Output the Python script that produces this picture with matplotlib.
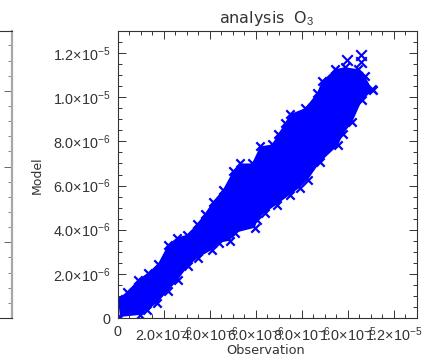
import matplotlib
matplotlib.use("Agg")
import matplotlib.pyplot as plt
from matplotlib.ticker import MultipleLocator, FixedLocator, FixedFormatter

plt.rcParams['font.family'] = ['Liberation Sans', 'DejaVu Sans']
plt.rcParams['mathtext.fontset'] = 'custom'
plt.rcParams['mathtext.rm'] = 'Liberation Sans'
plt.rcParams['mathtext.default'] = 'rm'

SCALE = 1e-6
upper_obs = [0.02, 0.41, 0.89, 1.33, 1.76, 2.20, 2.59, 3.02, 3.46, 3.80, 4.15, 4.59, 5.02, 5.33,
             5.85, 6.20, 6.72, 6.98, 7.28, 7.50, 8.15, 8.67, 8.89, 9.46, 9.89, 10.46, 10.76, 11.07]
upper_model = [0.86, 1.18, 1.73, 2.05, 2.45, 3.32, 3.64, 3.77, 4.27, 4.73, 5.27, 5.82, 6.64, 7.00,
               7.00, 7.77, 7.86, 8.32, 8.82, 9.23, 9.50, 10.18, 10.73, 11.27, 11.36, 11.27, 10.95, 10.36]
lower_obs = [11.11, 10.63, 10.20, 9.80, 9.59, 8.80, 8.28, 7.93, 7.50, 6.93, 6.41, 6.07, 5.98, 5.11,
             4.89, 4.41, 4.11, 3.50, 3.07, 2.63, 2.20, 1.72, 1.28, 0.98, 0.11]
lower_model = [10.32, 9.86, 8.86, 8.32, 7.82, 7.05, 6.27, 5.91, 5.59, 5.14, 4.77, 4.45, 4.09, 3.86,
               3.50, 3.41, 3.09, 2.73, 2.36, 1.73, 1.23, 0.68, 0.36, 0.14, 0.05]
outlier_obs = [9.98, 10.59, 10.59, 10.20]
outlier_model = [11.68, 11.91, 11.59, 11.05]

x_ticks = [0, 2, 4, 6, 8, 10, 12]
x_labels = ['0', r'2.0$\times$10$^{-6}$', r'4.0$\times$10$^{-6}$', r'6.0$\times$10$^{-6}$',
            r'8.0$\times$10$^{-6}$', r'1.0$\times$10$^{-5}$', r'1.2$\times$10$^{-5}$']
y_ticks = x_ticks
y_labels = x_labels
title_text = 'analysis  O$_3$'
x_title = 'Observation'
y_title = 'Model'
left_ticks = [0, 1, 2, 3]

W, H = 423, 355
INK = '#333333'
fig = plt.figure(figsize=(W / 100, H / 100), dpi=100)

def box(l, r, t, b):
    return [l / W, 1 - b / H, (r - l) / W, (b - t) / H]

# Clipped neighbouring panel
axl = fig.add_axes(box(-280, 12, 31, 318))
axl.set_ylim(0, 3.79)
axl.set_xlim(0, 1)
axl.spines['left'].set_visible(False)
axl.spines['right'].set_color('#a8a8a8')
axl.spines['right'].set_linewidth(1.6)
for s in ('top', 'bottom'):
    axl.spines[s].set_color(INK)
    axl.spines[s].set_linewidth(0.8)
axl.xaxis.set_visible(False)
axl.yaxis.tick_right()
axl.yaxis.set_major_locator(FixedLocator(left_ticks))
axl.yaxis.set_minor_locator(MultipleLocator(0.2))
axl.tick_params(axis='y', which='major', direction='in', length=6, width=0.7, color='#666666',
                labelright=False)
axl.tick_params(axis='y', which='minor', direction='in', length=3, width=0.7, color='#888888')

# Main panel
ax = fig.add_axes(box(117.5, 416.5, 31, 318))
ax.set_xlim(0, 13 * SCALE)
ax.set_ylim(0, 13 * SCALE)

fx = [v * SCALE for v in upper_obs + lower_obs]
fy = [v * SCALE for v in upper_model + lower_model]
ax.fill(fx, fy, color='#0000ff', lw=0, zorder=2)
ax.scatter(fx, fy, marker='x', s=36, c='#0000ff', linewidths=1.6, zorder=3)
ax.scatter([v * SCALE for v in outlier_obs], [v * SCALE for v in outlier_model],
           marker='x', s=58, c='#0000ff', linewidths=1.5, zorder=3)

ax.xaxis.set_major_locator(FixedLocator([v * SCALE for v in x_ticks]))
ax.xaxis.set_major_formatter(FixedFormatter(x_labels))
ax.yaxis.set_major_locator(FixedLocator([v * SCALE for v in y_ticks]))
ax.yaxis.set_major_formatter(FixedFormatter(y_labels))
ax.xaxis.set_minor_locator(MultipleLocator(0.5 * SCALE))
ax.yaxis.set_minor_locator(MultipleLocator(0.5 * SCALE))
ax.tick_params(which='major', direction='in', length=6, width=0.7, top=True, right=True,
               color=INK, labelsize=10.4, labelcolor=INK, zorder=5)
ax.tick_params(which='minor', direction='in', length=3, width=0.7, top=True, right=True, color=INK)
ax.tick_params(axis='x', pad=5)
ax.tick_params(axis='y', pad=5)
for s in ax.spines.values():
    s.set_linewidth(0.8)
    s.set_color(INK)
    s.set_zorder(6)

fig.text(267 / W, 1 - 19 / H, title_text, ha='center', va='center', fontsize=11.5, color=INK,
         family=['DejaVu Sans'])
fig.text(266 / W, 1 - 350 / H, x_title, ha='center', va='center', fontsize=9.3, color=INK,
         family=['DejaVu Sans'])
fig.text(37 / W, 1 - 175 / H, y_title, ha='center', va='center', rotation=90, fontsize=9, color=INK,
         family=['DejaVu Sans'])

fig.savefig('out.png', dpi=100)
